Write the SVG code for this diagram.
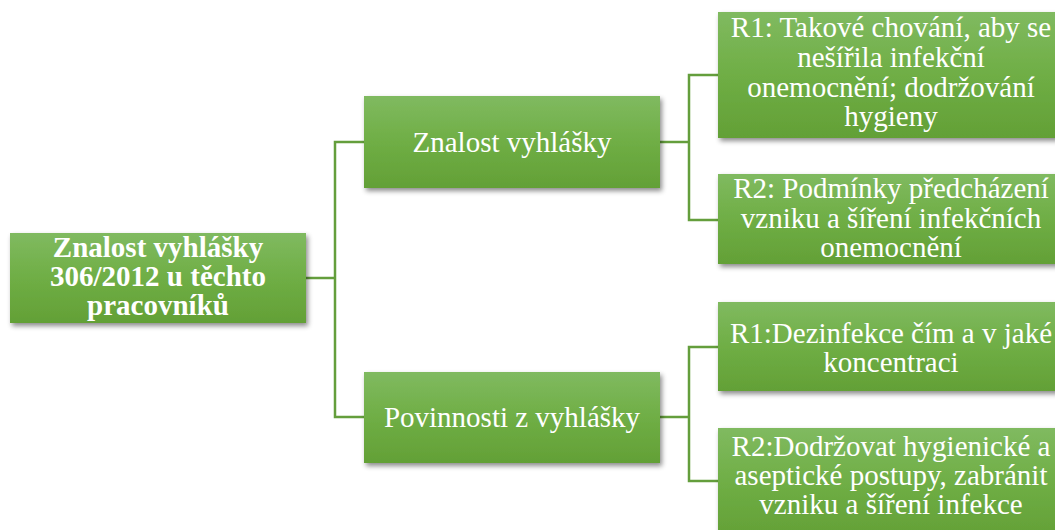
<svg xmlns="http://www.w3.org/2000/svg" width="1055" height="530" viewBox="0 0 1055 530">
  <defs>
    <linearGradient id="boxFill" x1="0" y1="0" x2="0" y2="1">
      <stop offset="0" stop-color="#80ba60"/>
      <stop offset="0.5" stop-color="#6fae45"/>
      <stop offset="1" stop-color="#63a036"/>
    </linearGradient>
    <filter id="shadow" x="-10%" y="-10%" width="130%" height="140%">
      <feDropShadow dx="2" dy="3" stdDeviation="2.5" flood-color="#000" flood-opacity="0.45"/>
    </filter>
  </defs>
  <style>
    .box { fill: url(#boxFill); filter: url(#shadow); }
    .txt { fill: #ffffff; font-family: "Liberation Serif", "Times New Roman", serif; font-size: 29px; text-anchor: middle; }
    .bold { font-weight: bold; }
    .conn { fill: none; stroke: #649e3c; stroke-width: 2.5; }
  </style>
  <rect width="1055" height="530" fill="#ffffff"/>

  <g id="connectors">
    <polyline class="conn" points="306,278 335,278"/>
    <polyline class="conn" points="364,142 335,142 335,417 364,417"/>
    <polyline class="conn" points="660,142 689,142"/>
    <polyline class="conn" points="718,75 689,75 689,220 718,220"/>
    <polyline class="conn" points="660,417 689,417"/>
    <polyline class="conn" points="718,347 689,347 689,481 718,481"/>
  </g>

  <g id="root">
    <rect class="box" x="10" y="233" width="296" height="90"/>
    <text class="txt bold" x="158" y="257">Znalost vyhlášky</text>
    <text class="txt bold" x="158" y="286">306/2012 u těchto</text>
    <text class="txt bold" x="158" y="315">pracovníků</text>
  </g>

  <g id="znalost">
    <rect class="box" x="364" y="96" width="296" height="92"/>
    <text class="txt" x="512" y="152">Znalost vyhlášky</text>
  </g>

  <g id="povinnosti">
    <rect class="box" x="364" y="372" width="296" height="91"/>
    <text class="txt" x="512" y="427">Povinnosti z vyhlášky</text>
  </g>

  <g id="znalost-r1">
    <rect class="box" x="718" y="12" width="345" height="126"/>
    <text class="txt" x="891" y="37">R1: Takové chování, aby se</text>
    <text class="txt" x="891" y="67">nešířila infekční</text>
    <text class="txt" x="891" y="97">onemocnění; dodržování</text>
    <text class="txt" x="891" y="126">hygieny</text>
  </g>

  <g id="znalost-r2">
    <rect class="box" x="718" y="174" width="345" height="90"/>
    <text class="txt" x="891" y="198">R2: Podmínky předcházení</text>
    <text class="txt" x="891" y="228">vzniku a šíření infekčních</text>
    <text class="txt" x="891" y="257">onemocnění</text>
  </g>

  <g id="povinnosti-r1">
    <rect class="box" x="718" y="302" width="345" height="89"/>
    <text class="txt" x="891" y="343">R1:Dezinfekce čím a v jaké</text>
    <text class="txt" x="891" y="372">koncentraci</text>
  </g>

  <g id="povinnosti-r2">
    <rect class="box" x="718" y="428" width="345" height="110"/>
    <text class="txt" x="891" y="456">R2:Dodržovat hygienické a</text>
    <text class="txt" x="891" y="485">aseptické postupy, zabránit</text>
    <text class="txt" x="891" y="514">vzniku a šíření infekce</text>
  </g>
</svg>
